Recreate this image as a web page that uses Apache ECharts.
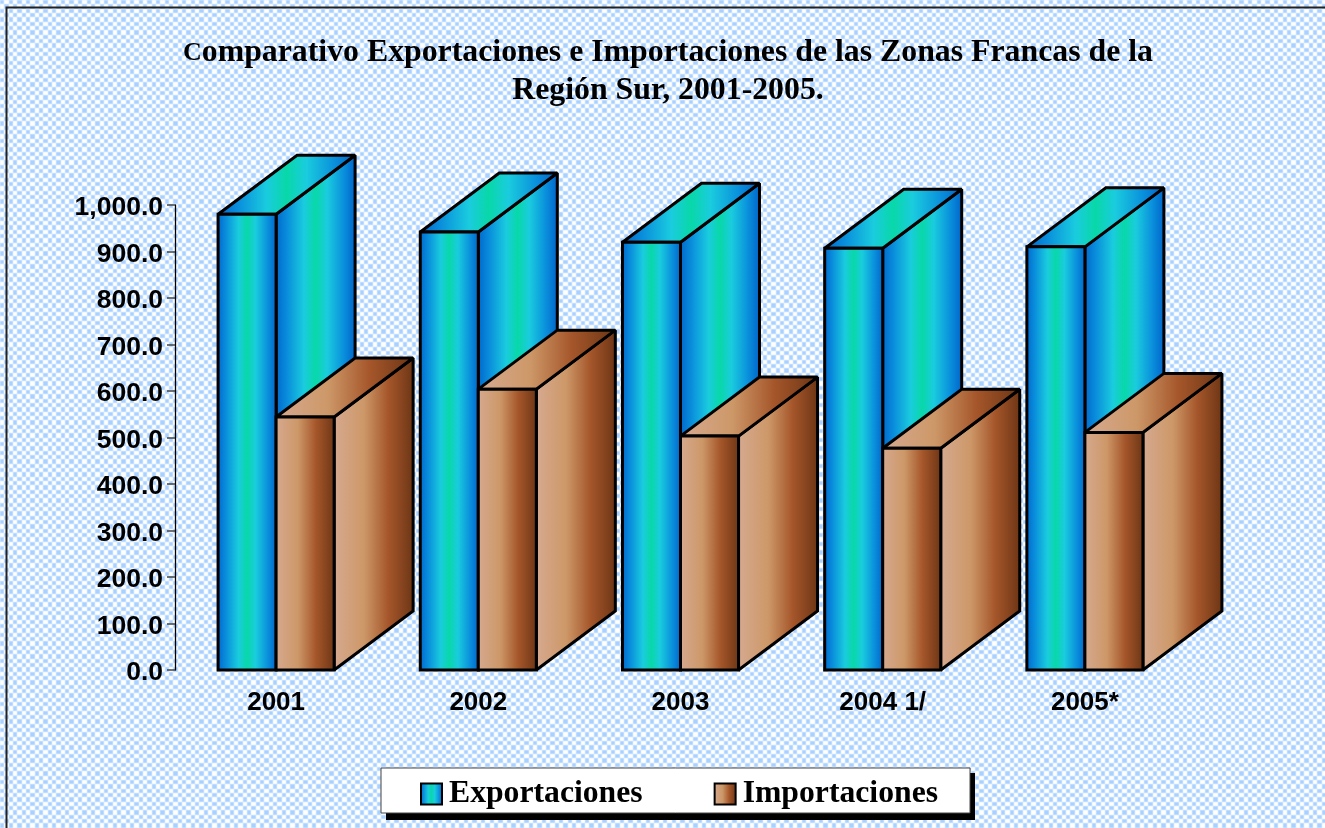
<!DOCTYPE html>
<html><head><meta charset="utf-8">
<style>html,body{margin:0;padding:0;background:#fff}#c{width:1325px;height:828px}</style>
<script src="https://cdn.jsdelivr.net/npm/echarts@6/dist/echarts.min.js"></script>
</head><body><div id="c"></div>
<script>
const categories = ['2001','2002','2003','2004 1/','2005*'];
const exportaciones = [980, 942, 920, 907, 910];
const importaciones = [544, 604, 503, 477, 511];
const seriesNames = ['Exportaciones','Importaciones'];
const titleLines = ['Comparativo Exportaciones e Importaciones de las Zonas Francas de la','Región Sur, 2001-2005.'];

const blueStops = [[0,'#0064cc'],[.16,'#0a90dc'],[.36,'#1accde'],[.5,'#08d8a8'],[.64,'#1accde'],[.84,'#0a90dc'],[1,'#0060c8']];
const brownStops = [[0,'#d6aa92'],[.38,'#cd9868'],[.68,'#a5562a'],[1,'#6a3414']];
const grad = stops => ({type:'linear',x:0,y:0,x2:1,y2:0,global:false,colorStops:stops.map(s=>({offset:s[0],color:s[1]}))});

function tile(){
  const widths=[4,5,4,4,5,4], N=26;
  const band=[];widths.forEach((w,i)=>{for(let k=0;k<w;k++)band.push(i%2);});
  const raw=(x,y)=>band[(x+N)%N]^band[(y+N)%N];
  const kern=[.17,.66,.17];
  const c=document.createElement('canvas');c.width=c.height=N;
  const g=c.getContext('2d'),im=g.createImageData(N,N);
  for(let y=0;y<N;y++)for(let x=0;x<N;x++){
    let v=0;
    for(let j=-1;j<=1;j++)for(let i=-1;i<=1;i++)v+=raw(x+i,y+j)*kern[i+1]*kern[j+1];
    v=Math.pow(v,.8);
    const o=(y*N+x)*4;
    im.data[o]=168+(255-168)*v;im.data[o+1]=209+(255-209)*v;im.data[o+2]=255;im.data[o+3]=255;
  }
  g.putImageData(im,0,0);
  return c;
}

function box(stops, side){
  return function(params, api){
    const v=api.value(1), i=api.value(0);
    const p=api.coord([i,v]), b=api.coord([i,0]);
    const w=api.size([1,0])[0]*0.287;
    const dx=79, dy=59;
    const x0=side<0?p[0]-w:p[0], x1=x0+w, yt=p[1], yb=b[1];
    const st={stroke:'#000',lineWidth:3,lineJoin:'miter',miterLimit:2,fill:grad(stops)};
    const poly=pts=>({type:'polygon',shape:{points:pts},style:st});
    return {type:'group',children:[
      poly([[x1,yt],[x1+dx,yt-dy],[x1+dx,yb-dy],[x1,yb]]),
      poly([[x0,yt],[x0+dx,yt-dy],[x1+dx,yt-dy],[x1,yt]]),
      poly([[x0,yt],[x1,yt],[x1,yb],[x0,yb]])
    ]};
  };
}
const toData = arr => arr.map((v,i)=>[i,v]);

const chart=echarts.init(document.getElementById('c'),null,{renderer:'canvas'});
chart.setOption({
  animation:false,
  backgroundColor:{image:tile(),repeat:'repeat'},
  title:{
    left:663,top:29,textAlign:'center',
    text:'{c|'+titleLines[0][0]+'}{t|'+titleLines[0].slice(1)+'}\n{t|'+titleLines[1]+'}',
    textStyle:{rich:{
      c:{fontFamily:'Liberation Serif',fontWeight:'bold',fontSize:26,lineHeight:38,color:'#000'},
      t:{fontFamily:'Liberation Serif',fontWeight:'bold',fontSize:31.8,lineHeight:38,color:'#000'}
    }}
  },
  grid:{left:175,right:139,top:205,bottom:158},
  xAxis:{type:'category',data:categories,
    axisLine:{show:false},axisTick:{show:false},
    axisLabel:{margin:20,color:'#000',fontFamily:'Liberation Sans',fontWeight:'bold',fontSize:26}},
  yAxis:{type:'value',min:0,max:1000,interval:100,splitLine:{show:false},
    axisLine:{show:true,lineStyle:{color:'#000',width:1.3}},
    axisTick:{show:true,length:8,lineStyle:{color:'#444',width:1.5}},
    axisLabel:{margin:12,color:'#000',fontFamily:'Liberation Sans',fontWeight:'bold',fontSize:26.5,verticalAlign:'top',lineHeight:6,
      formatter:v=>v.toLocaleString('en-US',{minimumFractionDigits:1,maximumFractionDigits:1})}},
  legend:{
    left:381,top:768,orient:'horizontal',z:3,
    padding:[10,32,3,39],itemGap:71,itemWidth:21,itemHeight:21,
    backgroundColor:'#fff',borderColor:'#444',borderWidth:1,
    textStyle:{fontFamily:'Liberation Serif',fontWeight:'bold',fontSize:31.7,color:'#000',padding:[0,0,0,2]},
    data:[
      {name:seriesNames[0],icon:'rect',itemStyle:{color:grad(blueStops),borderColor:'#000',borderWidth:2}},
      {name:seriesNames[1],icon:'rect',itemStyle:{color:grad(brownStops),borderColor:'#000',borderWidth:2}}
    ]
  },
  graphic:[
    {type:'polyline',silent:true,z:0,shape:{points:[[6.5,828],[6.5,7.5],[1325,7.5]]},
     style:{stroke:'#222',lineWidth:2,fill:null}},
    {type:'rect',silent:true,z:1,shape:{x:386,y:773,width:589,height:47},style:{fill:'#000'}}
  ],
  series:[
    {type:'custom',name:seriesNames[0],renderItem:box(blueStops,-1),encode:{x:0,y:1},data:toData(exportaciones),clip:false},
    {type:'custom',name:seriesNames[1],renderItem:box(brownStops,1),encode:{x:0,y:1},data:toData(importaciones),clip:false}
  ]
});
</script></body></html>
